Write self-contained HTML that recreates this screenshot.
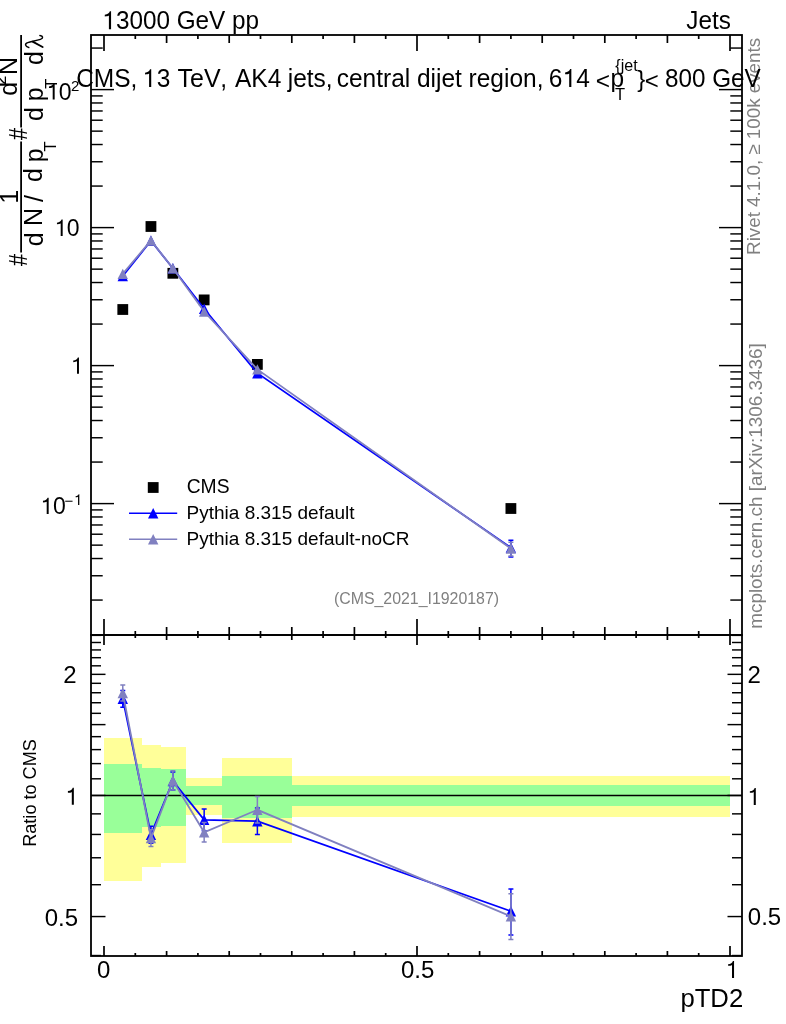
<!DOCTYPE html><html><head><meta charset="utf-8"><style>html,body{margin:0;padding:0;background:#fff;width:786px;height:1024px;overflow:hidden}svg{display:block;will-change:transform}</style></head><body>
<svg width="786" height="1024" viewBox="0 0 786 1024">
<rect width="786" height="1024" fill="#fff"/>
<g shape-rendering="crispEdges">
<rect x="103.50" y="738" width="38.50" height="142.60" fill="#ffff99"/>
<rect x="142.00" y="745.4" width="18.50" height="121.40" fill="#ffff99"/>
<rect x="160.50" y="746.5" width="25.00" height="116.50" fill="#ffff99"/>
<rect x="185.50" y="777.8" width="36.50" height="36.80" fill="#ffff99"/>
<rect x="222.00" y="757.9" width="70.00" height="84.90" fill="#ffff99"/>
<rect x="292.00" y="776" width="438.00" height="40.80" fill="#ffff99"/>
<rect x="103.50" y="764.2" width="38.50" height="68.60" fill="#99ff99"/>
<rect x="142.00" y="768.1" width="18.50" height="59.30" fill="#99ff99"/>
<rect x="160.50" y="769.1" width="25.00" height="56.50" fill="#99ff99"/>
<rect x="185.50" y="786.1" width="36.50" height="18.90" fill="#99ff99"/>
<rect x="222.00" y="776" width="70.00" height="41.70" fill="#99ff99"/>
<rect x="292.00" y="785.2" width="438.00" height="20.80" fill="#99ff99"/>
</g>
<line x1="91" y1="795.45" x2="742" y2="795.45" stroke="#000" stroke-width="1.6"/>
<g fill="none" stroke="#000" stroke-width="1.8">
<rect x="91" y="35" width="651" height="600"/>
<rect x="91" y="635" width="651" height="321"/>
</g>
<g stroke="#000"><line x1="104.00" y1="35.00" x2="104.00" y2="51.00" stroke-width="1.7"/><line x1="104.00" y1="635.00" x2="104.00" y2="619.00" stroke-width="1.7"/><line x1="104.00" y1="635.00" x2="104.00" y2="645.00" stroke-width="1.7"/><line x1="104.00" y1="956.00" x2="104.00" y2="946.00" stroke-width="1.7"/><line x1="135.30" y1="35.00" x2="135.30" y2="39.00" stroke-width="1.7"/><line x1="135.30" y1="635.00" x2="135.30" y2="631.00" stroke-width="1.7"/><line x1="135.30" y1="635.00" x2="135.30" y2="638.00" stroke-width="1.7"/><line x1="135.30" y1="956.00" x2="135.30" y2="953.00" stroke-width="1.7"/><line x1="166.60" y1="35.00" x2="166.60" y2="43.00" stroke-width="1.7"/><line x1="166.60" y1="635.00" x2="166.60" y2="627.00" stroke-width="1.7"/><line x1="166.60" y1="635.00" x2="166.60" y2="640.00" stroke-width="1.7"/><line x1="166.60" y1="956.00" x2="166.60" y2="951.00" stroke-width="1.7"/><line x1="197.90" y1="35.00" x2="197.90" y2="39.00" stroke-width="1.7"/><line x1="197.90" y1="635.00" x2="197.90" y2="631.00" stroke-width="1.7"/><line x1="197.90" y1="635.00" x2="197.90" y2="638.00" stroke-width="1.7"/><line x1="197.90" y1="956.00" x2="197.90" y2="953.00" stroke-width="1.7"/><line x1="229.20" y1="35.00" x2="229.20" y2="43.00" stroke-width="1.7"/><line x1="229.20" y1="635.00" x2="229.20" y2="627.00" stroke-width="1.7"/><line x1="229.20" y1="635.00" x2="229.20" y2="640.00" stroke-width="1.7"/><line x1="229.20" y1="956.00" x2="229.20" y2="951.00" stroke-width="1.7"/><line x1="260.50" y1="35.00" x2="260.50" y2="39.00" stroke-width="1.7"/><line x1="260.50" y1="635.00" x2="260.50" y2="631.00" stroke-width="1.7"/><line x1="260.50" y1="635.00" x2="260.50" y2="638.00" stroke-width="1.7"/><line x1="260.50" y1="956.00" x2="260.50" y2="953.00" stroke-width="1.7"/><line x1="291.80" y1="35.00" x2="291.80" y2="43.00" stroke-width="1.7"/><line x1="291.80" y1="635.00" x2="291.80" y2="627.00" stroke-width="1.7"/><line x1="291.80" y1="635.00" x2="291.80" y2="640.00" stroke-width="1.7"/><line x1="291.80" y1="956.00" x2="291.80" y2="951.00" stroke-width="1.7"/><line x1="323.10" y1="35.00" x2="323.10" y2="39.00" stroke-width="1.7"/><line x1="323.10" y1="635.00" x2="323.10" y2="631.00" stroke-width="1.7"/><line x1="323.10" y1="635.00" x2="323.10" y2="638.00" stroke-width="1.7"/><line x1="323.10" y1="956.00" x2="323.10" y2="953.00" stroke-width="1.7"/><line x1="354.40" y1="35.00" x2="354.40" y2="43.00" stroke-width="1.7"/><line x1="354.40" y1="635.00" x2="354.40" y2="627.00" stroke-width="1.7"/><line x1="354.40" y1="635.00" x2="354.40" y2="640.00" stroke-width="1.7"/><line x1="354.40" y1="956.00" x2="354.40" y2="951.00" stroke-width="1.7"/><line x1="385.70" y1="35.00" x2="385.70" y2="39.00" stroke-width="1.7"/><line x1="385.70" y1="635.00" x2="385.70" y2="631.00" stroke-width="1.7"/><line x1="385.70" y1="635.00" x2="385.70" y2="638.00" stroke-width="1.7"/><line x1="385.70" y1="956.00" x2="385.70" y2="953.00" stroke-width="1.7"/><line x1="417.00" y1="35.00" x2="417.00" y2="51.00" stroke-width="1.7"/><line x1="417.00" y1="635.00" x2="417.00" y2="619.00" stroke-width="1.7"/><line x1="417.00" y1="635.00" x2="417.00" y2="645.00" stroke-width="1.7"/><line x1="417.00" y1="956.00" x2="417.00" y2="946.00" stroke-width="1.7"/><line x1="448.30" y1="35.00" x2="448.30" y2="39.00" stroke-width="1.7"/><line x1="448.30" y1="635.00" x2="448.30" y2="631.00" stroke-width="1.7"/><line x1="448.30" y1="635.00" x2="448.30" y2="638.00" stroke-width="1.7"/><line x1="448.30" y1="956.00" x2="448.30" y2="953.00" stroke-width="1.7"/><line x1="479.60" y1="35.00" x2="479.60" y2="43.00" stroke-width="1.7"/><line x1="479.60" y1="635.00" x2="479.60" y2="627.00" stroke-width="1.7"/><line x1="479.60" y1="635.00" x2="479.60" y2="640.00" stroke-width="1.7"/><line x1="479.60" y1="956.00" x2="479.60" y2="951.00" stroke-width="1.7"/><line x1="510.90" y1="35.00" x2="510.90" y2="39.00" stroke-width="1.7"/><line x1="510.90" y1="635.00" x2="510.90" y2="631.00" stroke-width="1.7"/><line x1="510.90" y1="635.00" x2="510.90" y2="638.00" stroke-width="1.7"/><line x1="510.90" y1="956.00" x2="510.90" y2="953.00" stroke-width="1.7"/><line x1="542.20" y1="35.00" x2="542.20" y2="43.00" stroke-width="1.7"/><line x1="542.20" y1="635.00" x2="542.20" y2="627.00" stroke-width="1.7"/><line x1="542.20" y1="635.00" x2="542.20" y2="640.00" stroke-width="1.7"/><line x1="542.20" y1="956.00" x2="542.20" y2="951.00" stroke-width="1.7"/><line x1="573.50" y1="35.00" x2="573.50" y2="39.00" stroke-width="1.7"/><line x1="573.50" y1="635.00" x2="573.50" y2="631.00" stroke-width="1.7"/><line x1="573.50" y1="635.00" x2="573.50" y2="638.00" stroke-width="1.7"/><line x1="573.50" y1="956.00" x2="573.50" y2="953.00" stroke-width="1.7"/><line x1="604.80" y1="35.00" x2="604.80" y2="43.00" stroke-width="1.7"/><line x1="604.80" y1="635.00" x2="604.80" y2="627.00" stroke-width="1.7"/><line x1="604.80" y1="635.00" x2="604.80" y2="640.00" stroke-width="1.7"/><line x1="604.80" y1="956.00" x2="604.80" y2="951.00" stroke-width="1.7"/><line x1="636.10" y1="35.00" x2="636.10" y2="39.00" stroke-width="1.7"/><line x1="636.10" y1="635.00" x2="636.10" y2="631.00" stroke-width="1.7"/><line x1="636.10" y1="635.00" x2="636.10" y2="638.00" stroke-width="1.7"/><line x1="636.10" y1="956.00" x2="636.10" y2="953.00" stroke-width="1.7"/><line x1="667.40" y1="35.00" x2="667.40" y2="43.00" stroke-width="1.7"/><line x1="667.40" y1="635.00" x2="667.40" y2="627.00" stroke-width="1.7"/><line x1="667.40" y1="635.00" x2="667.40" y2="640.00" stroke-width="1.7"/><line x1="667.40" y1="956.00" x2="667.40" y2="951.00" stroke-width="1.7"/><line x1="698.70" y1="35.00" x2="698.70" y2="39.00" stroke-width="1.7"/><line x1="698.70" y1="635.00" x2="698.70" y2="631.00" stroke-width="1.7"/><line x1="698.70" y1="635.00" x2="698.70" y2="638.00" stroke-width="1.7"/><line x1="698.70" y1="956.00" x2="698.70" y2="953.00" stroke-width="1.7"/><line x1="730.00" y1="35.00" x2="730.00" y2="51.00" stroke-width="1.7"/><line x1="730.00" y1="635.00" x2="730.00" y2="619.00" stroke-width="1.7"/><line x1="730.00" y1="635.00" x2="730.00" y2="645.00" stroke-width="1.7"/><line x1="730.00" y1="956.00" x2="730.00" y2="946.00" stroke-width="1.7"/><line x1="91.00" y1="600.06" x2="102.70" y2="600.06" stroke-width="1.45"/><line x1="742.00" y1="600.06" x2="730.30" y2="600.06" stroke-width="1.45"/><line x1="91.00" y1="575.76" x2="102.70" y2="575.76" stroke-width="1.45"/><line x1="742.00" y1="575.76" x2="730.30" y2="575.76" stroke-width="1.45"/><line x1="91.00" y1="558.52" x2="102.70" y2="558.52" stroke-width="1.45"/><line x1="742.00" y1="558.52" x2="730.30" y2="558.52" stroke-width="1.45"/><line x1="91.00" y1="545.14" x2="102.70" y2="545.14" stroke-width="1.45"/><line x1="742.00" y1="545.14" x2="730.30" y2="545.14" stroke-width="1.45"/><line x1="91.00" y1="534.22" x2="102.70" y2="534.22" stroke-width="1.45"/><line x1="742.00" y1="534.22" x2="730.30" y2="534.22" stroke-width="1.45"/><line x1="91.00" y1="524.98" x2="102.70" y2="524.98" stroke-width="1.45"/><line x1="742.00" y1="524.98" x2="730.30" y2="524.98" stroke-width="1.45"/><line x1="91.00" y1="516.97" x2="102.70" y2="516.97" stroke-width="1.45"/><line x1="742.00" y1="516.97" x2="730.30" y2="516.97" stroke-width="1.45"/><line x1="91.00" y1="509.91" x2="102.70" y2="509.91" stroke-width="1.45"/><line x1="742.00" y1="509.91" x2="730.30" y2="509.91" stroke-width="1.45"/><line x1="91.00" y1="503.60" x2="114.00" y2="503.60" stroke-width="1.45"/><line x1="742.00" y1="503.60" x2="719.00" y2="503.60" stroke-width="1.45"/><line x1="91.00" y1="462.06" x2="102.70" y2="462.06" stroke-width="1.45"/><line x1="742.00" y1="462.06" x2="730.30" y2="462.06" stroke-width="1.45"/><line x1="91.00" y1="437.76" x2="102.70" y2="437.76" stroke-width="1.45"/><line x1="742.00" y1="437.76" x2="730.30" y2="437.76" stroke-width="1.45"/><line x1="91.00" y1="420.52" x2="102.70" y2="420.52" stroke-width="1.45"/><line x1="742.00" y1="420.52" x2="730.30" y2="420.52" stroke-width="1.45"/><line x1="91.00" y1="407.14" x2="102.70" y2="407.14" stroke-width="1.45"/><line x1="742.00" y1="407.14" x2="730.30" y2="407.14" stroke-width="1.45"/><line x1="91.00" y1="396.22" x2="102.70" y2="396.22" stroke-width="1.45"/><line x1="742.00" y1="396.22" x2="730.30" y2="396.22" stroke-width="1.45"/><line x1="91.00" y1="386.98" x2="102.70" y2="386.98" stroke-width="1.45"/><line x1="742.00" y1="386.98" x2="730.30" y2="386.98" stroke-width="1.45"/><line x1="91.00" y1="378.97" x2="102.70" y2="378.97" stroke-width="1.45"/><line x1="742.00" y1="378.97" x2="730.30" y2="378.97" stroke-width="1.45"/><line x1="91.00" y1="371.91" x2="102.70" y2="371.91" stroke-width="1.45"/><line x1="742.00" y1="371.91" x2="730.30" y2="371.91" stroke-width="1.45"/><line x1="91.00" y1="365.60" x2="114.00" y2="365.60" stroke-width="1.45"/><line x1="742.00" y1="365.60" x2="719.00" y2="365.60" stroke-width="1.45"/><line x1="91.00" y1="324.06" x2="102.70" y2="324.06" stroke-width="1.45"/><line x1="742.00" y1="324.06" x2="730.30" y2="324.06" stroke-width="1.45"/><line x1="91.00" y1="299.76" x2="102.70" y2="299.76" stroke-width="1.45"/><line x1="742.00" y1="299.76" x2="730.30" y2="299.76" stroke-width="1.45"/><line x1="91.00" y1="282.52" x2="102.70" y2="282.52" stroke-width="1.45"/><line x1="742.00" y1="282.52" x2="730.30" y2="282.52" stroke-width="1.45"/><line x1="91.00" y1="269.14" x2="102.70" y2="269.14" stroke-width="1.45"/><line x1="742.00" y1="269.14" x2="730.30" y2="269.14" stroke-width="1.45"/><line x1="91.00" y1="258.22" x2="102.70" y2="258.22" stroke-width="1.45"/><line x1="742.00" y1="258.22" x2="730.30" y2="258.22" stroke-width="1.45"/><line x1="91.00" y1="248.98" x2="102.70" y2="248.98" stroke-width="1.45"/><line x1="742.00" y1="248.98" x2="730.30" y2="248.98" stroke-width="1.45"/><line x1="91.00" y1="240.97" x2="102.70" y2="240.97" stroke-width="1.45"/><line x1="742.00" y1="240.97" x2="730.30" y2="240.97" stroke-width="1.45"/><line x1="91.00" y1="233.91" x2="102.70" y2="233.91" stroke-width="1.45"/><line x1="742.00" y1="233.91" x2="730.30" y2="233.91" stroke-width="1.45"/><line x1="91.00" y1="227.60" x2="114.00" y2="227.60" stroke-width="1.45"/><line x1="742.00" y1="227.60" x2="719.00" y2="227.60" stroke-width="1.45"/><line x1="91.00" y1="186.06" x2="102.70" y2="186.06" stroke-width="1.45"/><line x1="742.00" y1="186.06" x2="730.30" y2="186.06" stroke-width="1.45"/><line x1="91.00" y1="161.76" x2="102.70" y2="161.76" stroke-width="1.45"/><line x1="742.00" y1="161.76" x2="730.30" y2="161.76" stroke-width="1.45"/><line x1="91.00" y1="144.52" x2="102.70" y2="144.52" stroke-width="1.45"/><line x1="742.00" y1="144.52" x2="730.30" y2="144.52" stroke-width="1.45"/><line x1="91.00" y1="131.14" x2="102.70" y2="131.14" stroke-width="1.45"/><line x1="742.00" y1="131.14" x2="730.30" y2="131.14" stroke-width="1.45"/><line x1="91.00" y1="120.22" x2="102.70" y2="120.22" stroke-width="1.45"/><line x1="742.00" y1="120.22" x2="730.30" y2="120.22" stroke-width="1.45"/><line x1="91.00" y1="110.98" x2="102.70" y2="110.98" stroke-width="1.45"/><line x1="742.00" y1="110.98" x2="730.30" y2="110.98" stroke-width="1.45"/><line x1="91.00" y1="102.97" x2="102.70" y2="102.97" stroke-width="1.45"/><line x1="742.00" y1="102.97" x2="730.30" y2="102.97" stroke-width="1.45"/><line x1="91.00" y1="95.91" x2="102.70" y2="95.91" stroke-width="1.45"/><line x1="742.00" y1="95.91" x2="730.30" y2="95.91" stroke-width="1.45"/><line x1="91.00" y1="89.60" x2="114.00" y2="89.60" stroke-width="1.45"/><line x1="742.00" y1="89.60" x2="719.00" y2="89.60" stroke-width="1.45"/><line x1="91.00" y1="48.06" x2="102.70" y2="48.06" stroke-width="1.45"/><line x1="742.00" y1="48.06" x2="730.30" y2="48.06" stroke-width="1.45"/><line x1="91.00" y1="955.54" x2="101.00" y2="955.54" stroke-width="1.45"/><line x1="742.00" y1="955.54" x2="732.00" y2="955.54" stroke-width="1.45"/><line x1="91.00" y1="916.55" x2="105.50" y2="916.55" stroke-width="1.45"/><line x1="742.00" y1="916.55" x2="727.50" y2="916.55" stroke-width="1.45"/><line x1="91.00" y1="884.70" x2="101.00" y2="884.70" stroke-width="1.45"/><line x1="742.00" y1="884.70" x2="732.00" y2="884.70" stroke-width="1.45"/><line x1="91.00" y1="857.77" x2="101.00" y2="857.77" stroke-width="1.45"/><line x1="742.00" y1="857.77" x2="732.00" y2="857.77" stroke-width="1.45"/><line x1="91.00" y1="834.44" x2="101.00" y2="834.44" stroke-width="1.45"/><line x1="742.00" y1="834.44" x2="732.00" y2="834.44" stroke-width="1.45"/><line x1="91.00" y1="813.86" x2="101.00" y2="813.86" stroke-width="1.45"/><line x1="742.00" y1="813.86" x2="732.00" y2="813.86" stroke-width="1.45"/><line x1="91.00" y1="795.45" x2="105.50" y2="795.45" stroke-width="1.45"/><line x1="742.00" y1="795.45" x2="727.50" y2="795.45" stroke-width="1.45"/><line x1="91.00" y1="778.80" x2="101.00" y2="778.80" stroke-width="1.45"/><line x1="742.00" y1="778.80" x2="732.00" y2="778.80" stroke-width="1.45"/><line x1="91.00" y1="763.60" x2="101.00" y2="763.60" stroke-width="1.45"/><line x1="742.00" y1="763.60" x2="732.00" y2="763.60" stroke-width="1.45"/><line x1="91.00" y1="749.61" x2="101.00" y2="749.61" stroke-width="1.45"/><line x1="742.00" y1="749.61" x2="732.00" y2="749.61" stroke-width="1.45"/><line x1="91.00" y1="736.66" x2="101.00" y2="736.66" stroke-width="1.45"/><line x1="742.00" y1="736.66" x2="732.00" y2="736.66" stroke-width="1.45"/><line x1="91.00" y1="724.61" x2="105.50" y2="724.61" stroke-width="1.45"/><line x1="742.00" y1="724.61" x2="727.50" y2="724.61" stroke-width="1.45"/><line x1="91.00" y1="713.33" x2="101.00" y2="713.33" stroke-width="1.45"/><line x1="742.00" y1="713.33" x2="732.00" y2="713.33" stroke-width="1.45"/><line x1="91.00" y1="702.74" x2="101.00" y2="702.74" stroke-width="1.45"/><line x1="742.00" y1="702.74" x2="732.00" y2="702.74" stroke-width="1.45"/><line x1="91.00" y1="692.75" x2="101.00" y2="692.75" stroke-width="1.45"/><line x1="742.00" y1="692.75" x2="732.00" y2="692.75" stroke-width="1.45"/><line x1="91.00" y1="683.31" x2="101.00" y2="683.31" stroke-width="1.45"/><line x1="742.00" y1="683.31" x2="732.00" y2="683.31" stroke-width="1.45"/><line x1="91.00" y1="674.35" x2="105.50" y2="674.35" stroke-width="1.45"/><line x1="742.00" y1="674.35" x2="727.50" y2="674.35" stroke-width="1.45"/><line x1="91.00" y1="665.82" x2="101.00" y2="665.82" stroke-width="1.45"/><line x1="742.00" y1="665.82" x2="732.00" y2="665.82" stroke-width="1.45"/><line x1="91.00" y1="657.69" x2="101.00" y2="657.69" stroke-width="1.45"/><line x1="742.00" y1="657.69" x2="732.00" y2="657.69" stroke-width="1.45"/><line x1="91.00" y1="649.93" x2="101.00" y2="649.93" stroke-width="1.45"/><line x1="742.00" y1="649.93" x2="732.00" y2="649.93" stroke-width="1.45"/><line x1="91.00" y1="642.49" x2="101.00" y2="642.49" stroke-width="1.45"/><line x1="742.00" y1="642.49" x2="732.00" y2="642.49" stroke-width="1.45"/><line x1="91.00" y1="635.36" x2="101.00" y2="635.36" stroke-width="1.45"/><line x1="742.00" y1="635.36" x2="732.00" y2="635.36" stroke-width="1.45"/></g>
<text transform="translate(760,254.9) rotate(-90)" font-family="Liberation Sans" font-size="18.8" fill="#808080">Rivet 4.1.0, ≥ 100k events</text>
<text transform="translate(762,628.8) rotate(-90)" font-family="Liberation Sans" font-size="18.9" fill="#808080">mcplots.cern.ch [arXiv:1306.3436]</text>
<text transform="translate(115.9,29.2) scale(1,1.05)" font-family="Liberation Sans" font-size="24.3" fill="#000" text-anchor="start" >3000 GeV pp</text>
<path transform="translate(108.9,29.2) scale(1.0583)" d="M2.05,0V-17H0.9C0.5,-15.4 -1.3,-13.9 -3.9,-13.7V-12.05C-2.2,-12.05 -0.9,-12.3 0,-12.9V0Z" fill="#000"/>
<text transform="translate(686.25,29.3) scale(1,1.05)" font-family="Liberation Sans" font-size="24.3" fill="#000" text-anchor="start" >Jets</text>
<text transform="translate(76.15,87) scale(1,1.04)" font-family="Liberation Sans" font-size="24.5" fill="#000" text-anchor="start" >CMS,</text>
<text transform="translate(156.8,87) scale(1,1.04)" font-family="Liberation Sans" font-size="24.5" fill="#000" text-anchor="start" >3</text>
<text transform="translate(220.35,87) scale(1,1.04)" font-family="Liberation Sans" font-size="24.5" fill="#000" text-anchor="start" >,</text>
<text transform="translate(235.0,87) scale(1,1.04)" font-family="Liberation Sans" font-size="24.5" fill="#000" text-anchor="start" >AK4</text>
<text transform="translate(287.7,87) scale(1,1.04)" font-family="Liberation Sans" font-size="24.5" fill="#000" text-anchor="start" >jets,</text>
<text transform="translate(336.7,87) scale(1,1.04)" font-family="Liberation Sans" font-size="24.5" fill="#000" text-anchor="start" >central</text>
<text transform="translate(417,87) scale(1,1.04)" font-family="Liberation Sans" font-size="24.5" fill="#000" text-anchor="start" >dijet</text>
<text transform="translate(468.55,87) scale(1,1.04)" font-family="Liberation Sans" font-size="24.5" fill="#000" text-anchor="start" >region,</text>
<text transform="translate(548.85,87) scale(1,1.04)" font-family="Liberation Sans" font-size="24.5" fill="#000" text-anchor="start" >6</text>
<text transform="translate(576.3,87) scale(1,1.04)" font-family="Liberation Sans" font-size="24.5" fill="#000" text-anchor="start" >4</text>
<text transform="translate(610.6,87) scale(1,1.04)" font-family="Liberation Sans" font-size="24.5" fill="#000" text-anchor="start" >p</text>
<path transform="translate(149.1,86.9) scale(1.0354)" d="M2.05,0V-17H0.9C0.5,-15.4 -1.3,-13.9 -3.9,-13.7V-12.05C-2.2,-12.05 -0.9,-12.3 0,-12.9V0Z" fill="#000"/>
<text transform="translate(177.5,87) scale(1,1.02)" font-family="Liberation Sans" font-size="25" fill="#000" text-anchor="start" >TeV</text>
<path transform="translate(569.2,86.9) scale(1.0458)" d="M2.05,0V-17H0.9C0.5,-15.4 -1.3,-13.9 -3.9,-13.7V-12.05C-2.2,-12.05 -0.9,-12.3 0,-12.9V0Z" fill="#000"/>
<text x="615.35" y="70.5" font-family="Liberation Sans" font-size="16" fill="#000" text-anchor="start" >{jet</text>
<text x="615" y="99.7" font-family="Liberation Sans" font-size="16.5" fill="#000" text-anchor="start" >T</text>
<text x="637.2" y="86.6" font-family="Liberation Sans" font-size="24" fill="#000" text-anchor="start" >}</text>
<text x="595.65" y="89.1" font-family="Liberation Sans" font-size="24.5" fill="#000" text-anchor="start" >&lt;</text>
<text x="644.85" y="88.8" font-family="Liberation Sans" font-size="24" fill="#000" text-anchor="start" >&lt;</text>
<text transform="translate(665,86.8) scale(1,1.04)" font-family="Liberation Sans" font-size="24.25" fill="#000" text-anchor="start" >800 GeV</text>
<text x="52.9" y="514" font-family="Liberation Sans" font-size="23" fill="#000" text-anchor="start" >0</text>
<path transform="translate(46.7,514) scale(0.9583)" d="M2.05,0V-17H0.9C0.5,-15.4 -1.3,-13.9 -3.9,-13.7V-12.05C-2.2,-12.05 -0.9,-12.3 0,-12.9V0Z" fill="#000"/>
<text x="64.45" y="506" font-family="Liberation Sans" font-size="15" fill="#000" text-anchor="start" >−</text>
<path transform="translate(78.05,504.9) scale(0.6250)" d="M2.05,0V-17H0.9C0.5,-15.4 -1.3,-13.9 -3.9,-13.7V-12.05C-2.2,-12.05 -0.9,-12.3 0,-12.9V0Z" fill="#000"/>
<text x="66.8" y="235.9" font-family="Liberation Sans" font-size="23" fill="#000" text-anchor="start" >0</text>
<path transform="translate(60.7,235.9) scale(0.9583)" d="M2.05,0V-17H0.9C0.5,-15.4 -1.3,-13.9 -3.9,-13.7V-12.05C-2.2,-12.05 -0.9,-12.3 0,-12.9V0Z" fill="#000"/>
<path transform="translate(77,373.7) scale(0.9583)" d="M2.05,0V-17H0.9C0.5,-15.4 -1.3,-13.9 -3.9,-13.7V-12.05C-2.2,-12.05 -0.9,-12.3 0,-12.9V0Z" fill="#000"/>
<text x="58.8" y="99.6" font-family="Liberation Sans" font-size="23" fill="#000" text-anchor="start" >0</text>
<path transform="translate(52.7,99.6) scale(0.9583)" d="M2.05,0V-17H0.9C0.5,-15.4 -1.3,-13.9 -3.9,-13.7V-12.05C-2.2,-12.05 -0.9,-12.3 0,-12.9V0Z" fill="#000"/>
<text x="71.05" y="90.6" font-family="Liberation Sans" font-size="15" fill="#000" text-anchor="start" >2</text>
<text x="63.2" y="682.9" font-family="Liberation Sans" font-size="24" fill="#000" text-anchor="start" >2</text>
<path transform="translate(71.8,804.8) scale(1.0000)" d="M2.05,0V-17H0.9C0.5,-15.4 -1.3,-13.9 -3.9,-13.7V-12.05C-2.2,-12.05 -0.9,-12.3 0,-12.9V0Z" fill="#000"/>
<text x="44.7" y="925.5" font-family="Liberation Sans" font-size="24" fill="#000" text-anchor="start" >0.5</text>
<text x="747.4" y="682.8" font-family="Liberation Sans" font-size="24" fill="#000" text-anchor="start" >2</text>
<path transform="translate(753.75,804.9) scale(1.0000)" d="M2.05,0V-17H0.9C0.5,-15.4 -1.3,-13.9 -3.9,-13.7V-12.05C-2.2,-12.05 -0.9,-12.3 0,-12.9V0Z" fill="#000"/>
<text x="747.8" y="925.3" font-family="Liberation Sans" font-size="24" fill="#000" text-anchor="start" >0.5</text>
<text x="97" y="978.2" font-family="Liberation Sans" font-size="24" fill="#000" text-anchor="start" >0</text>
<text x="400.9" y="978.2" font-family="Liberation Sans" font-size="24" fill="#000" text-anchor="start" >0.5</text>
<path transform="translate(732,977.9) scale(1.0000)" d="M2.05,0V-17H0.9C0.5,-15.4 -1.3,-13.9 -3.9,-13.7V-12.05C-2.2,-12.05 -0.9,-12.3 0,-12.9V0Z" fill="#000"/>
<text x="680.4" y="1006.7" font-family="Liberation Sans" font-size="25.7" fill="#000" text-anchor="start" >pTD2</text>
<text transform="translate(36,846.8) rotate(-90)" font-family="Liberation Sans" font-size="18.1">Ratio to CMS</text>
<text x="333.9" y="603.9" font-family="Liberation Sans" font-size="15.9" fill="#808080" text-anchor="start" >(CMS_2021_I1920187)</text>
<text transform="translate(27.4,266.08) rotate(-90) scale(0.87,1)" font-family="Liberation Sans" font-size="25">#</text>
<text transform="translate(17.8,203.8) rotate(-90)" font-family="Liberation Sans" font-size="25">1</text>
<text transform="translate(42.5,246.2) rotate(-90)" font-family="Liberation Sans" font-size="25">d</text>
<text transform="translate(41.9,226) rotate(-90)" font-family="Liberation Sans" font-size="25">N</text>
<text transform="translate(42.7,202) rotate(-90)" font-family="Liberation Sans" font-size="25">/</text>
<text transform="translate(42.3,181.9) rotate(-90)" font-family="Liberation Sans" font-size="25">d</text>
<text transform="translate(42.5,162.35) rotate(-90)" font-family="Liberation Sans" font-size="25">p</text>
<text transform="translate(56,151.4) rotate(-90)" font-family="Liberation Sans" font-size="16.5">T</text>
<text transform="translate(27.4,139.98) rotate(-90) scale(0.87,1)" font-family="Liberation Sans" font-size="25">#</text>
<text transform="translate(43,120.9) rotate(-90)" font-family="Liberation Sans" font-size="25">d</text>
<text transform="translate(43,101.25) rotate(-90)" font-family="Liberation Sans" font-size="25">p</text>
<text transform="translate(56.6,88.85) rotate(-90)" font-family="Liberation Sans" font-size="16.5">T</text>
<text transform="translate(43,65) rotate(-90)" font-family="Liberation Sans" font-size="25">d</text>
<path d="M28.8,47.5C25.2,46.8 24.3,43.6 27.8,42.6C31.8,41.5 36.8,40.6 40.4,39.4C43.6,38.3 43.2,35.9 39.9,35.5" fill="none" stroke="#000" stroke-width="1.45" stroke-linecap="round"/>
<path d="M32.6,41.7L42.6,47.0" fill="none" stroke="#000" stroke-width="1.9" stroke-linecap="round"/>
<text transform="translate(16.8,95.8) rotate(-90)" font-family="Liberation Sans" font-size="25">d</text>
<text transform="translate(5.9,84.65) rotate(-90)" font-family="Liberation Sans" font-size="16.5">2</text>
<text transform="translate(16.8,75) rotate(-90)" font-family="Liberation Sans" font-size="25">N</text>
<line x1="21.1" y1="141.5" x2="21.1" y2="252.6" stroke="#000" stroke-width="1.8"/>
<line x1="21.1" y1="35.1" x2="21.1" y2="127.4" stroke="#000" stroke-width="1.8"/>
<rect x="117.38" y="304.10" width="10.8" height="10.8" fill="#000"/>
<rect x="145.55" y="221.10" width="10.8" height="10.8" fill="#000"/>
<rect x="167.46" y="267.90" width="10.8" height="10.8" fill="#000"/>
<rect x="198.76" y="294.50" width="10.8" height="10.8" fill="#000"/>
<rect x="251.97" y="359.00" width="10.8" height="10.8" fill="#000"/>
<rect x="505.50" y="503.10" width="10.8" height="10.8" fill="#000"/>
<polyline points="122.78,276.00 150.95,240.80 172.86,268.30 204.16,308.70 257.37,373.20 510.90,547.60" fill="none" stroke="#0000ff" stroke-width="1.8"/>
<path d="M510.90,540.30V557.00M508.40,540.30h5M508.40,557.00h5" stroke="#0000ff" stroke-width="1.5" fill="none"/>
<polygon points="117.58,281.20 127.98,281.20 122.78,270.80" fill="#0000ff"/>
<polygon points="145.75,246.00 156.15,246.00 150.95,235.60" fill="#0000ff"/>
<polygon points="167.66,273.50 178.06,273.50 172.86,263.10" fill="#0000ff"/>
<polygon points="198.96,313.90 209.36,313.90 204.16,303.50" fill="#0000ff"/>
<polygon points="252.17,378.40 262.57,378.40 257.37,368.00" fill="#0000ff"/>
<polygon points="505.70,552.80 516.10,552.80 510.90,542.40" fill="#0000ff"/>
<polyline points="122.78,273.90 150.95,240.50 172.86,268.30 204.16,311.50 257.37,369.40 510.90,548.50" fill="none" stroke="#8080c0" stroke-width="1.8"/>
<path d="M510.90,542.20V556.00M508.40,542.20h5M508.40,556.00h5" stroke="#8080c0" stroke-width="1.5" fill="none"/>
<polygon points="117.58,279.10 127.98,279.10 122.78,268.70" fill="#8080c0"/>
<polygon points="145.75,245.70 156.15,245.70 150.95,235.30" fill="#8080c0"/>
<polygon points="167.66,273.50 178.06,273.50 172.86,263.10" fill="#8080c0"/>
<polygon points="198.96,316.70 209.36,316.70 204.16,306.30" fill="#8080c0"/>
<polygon points="252.17,374.60 262.57,374.60 257.37,364.20" fill="#8080c0"/>
<polygon points="505.70,553.70 516.10,553.70 510.90,543.30" fill="#8080c0"/>
<polyline points="122.78,698.80 150.95,834.70 172.86,781.00 204.16,819.80 257.37,821.25 510.90,911.20" fill="none" stroke="#0000ff" stroke-width="1.8"/>
<path d="M122.78,690.50V707.20M120.28,690.50h5M120.28,707.20h5" stroke="#0000ff" stroke-width="1.5" fill="none"/>
<path d="M150.95,826.20V843.20M148.45,826.20h5M148.45,843.20h5" stroke="#0000ff" stroke-width="1.5" fill="none"/>
<path d="M172.86,772.00V790.00M170.36,772.00h5M170.36,790.00h5" stroke="#0000ff" stroke-width="1.5" fill="none"/>
<path d="M204.16,808.90V830.70M201.66,808.90h5M201.66,830.70h5" stroke="#0000ff" stroke-width="1.5" fill="none"/>
<path d="M257.37,808.00V834.50M254.87,808.00h5M254.87,834.50h5" stroke="#0000ff" stroke-width="1.5" fill="none"/>
<path d="M510.90,888.90V935.00M508.40,888.90h5M508.40,935.00h5" stroke="#0000ff" stroke-width="1.5" fill="none"/>
<polygon points="117.58,704.00 127.98,704.00 122.78,693.60" fill="#0000ff"/>
<polygon points="145.75,839.90 156.15,839.90 150.95,829.50" fill="#0000ff"/>
<polygon points="167.66,786.20 178.06,786.20 172.86,775.80" fill="#0000ff"/>
<polygon points="198.96,825.00 209.36,825.00 204.16,814.60" fill="#0000ff"/>
<polygon points="252.17,826.45 262.57,826.45 257.37,816.05" fill="#0000ff"/>
<polygon points="505.70,916.40 516.10,916.40 510.90,906.00" fill="#0000ff"/>
<polyline points="122.78,693.00 150.95,838.15 172.86,780.60 204.16,832.25 257.37,809.80 510.90,916.30" fill="none" stroke="#8080c0" stroke-width="1.8"/>
<path d="M122.78,685.10V700.90M120.28,685.10h5M120.28,700.90h5" stroke="#8080c0" stroke-width="1.5" fill="none"/>
<path d="M150.95,829.80V846.50M148.45,829.80h5M148.45,846.50h5" stroke="#8080c0" stroke-width="1.5" fill="none"/>
<path d="M172.86,770.70V790.00M170.36,770.70h5M170.36,790.00h5" stroke="#8080c0" stroke-width="1.5" fill="none"/>
<path d="M204.16,822.60V841.90M201.66,822.60h5M201.66,841.90h5" stroke="#8080c0" stroke-width="1.5" fill="none"/>
<path d="M257.37,796.60V823.00M254.87,796.60h5M254.87,823.00h5" stroke="#8080c0" stroke-width="1.5" fill="none"/>
<path d="M510.90,893.80V939.50M508.40,893.80h5M508.40,939.50h5" stroke="#8080c0" stroke-width="1.5" fill="none"/>
<polygon points="117.58,698.20 127.98,698.20 122.78,687.80" fill="#8080c0"/>
<polygon points="145.75,843.35 156.15,843.35 150.95,832.95" fill="#8080c0"/>
<polygon points="167.66,785.80 178.06,785.80 172.86,775.40" fill="#8080c0"/>
<polygon points="198.96,837.45 209.36,837.45 204.16,827.05" fill="#8080c0"/>
<polygon points="252.17,815.00 262.57,815.00 257.37,804.60" fill="#8080c0"/>
<polygon points="505.70,921.50 516.10,921.50 510.90,911.10" fill="#8080c0"/>
<rect x="147.80" y="482.10" width="10.8" height="10.8" fill="#000"/>
<text x="186.7" y="493" font-family="Liberation Sans" font-size="19.3" fill="#000" text-anchor="start" >CMS</text>
<line x1="129" y1="513.2" x2="177.2" y2="513.2" stroke="#0000ff" stroke-width="1.6"/>
<polygon points="148.00,518.40 158.40,518.40 153.20,508.00" fill="#0000ff"/>
<text x="186.6" y="518.75" font-family="Liberation Sans" font-size="19" fill="#000" text-anchor="start" >Pythia 8.315 default</text>
<line x1="129" y1="539.2" x2="177.2" y2="539.2" stroke="#8080c0" stroke-width="1.6"/>
<polygon points="148.00,544.40 158.40,544.40 153.20,534.00" fill="#8080c0"/>
<text x="186.6" y="544.5" font-family="Liberation Sans" font-size="19" fill="#000" text-anchor="start" >Pythia 8.315 default-noCR</text>
</svg></body></html>
